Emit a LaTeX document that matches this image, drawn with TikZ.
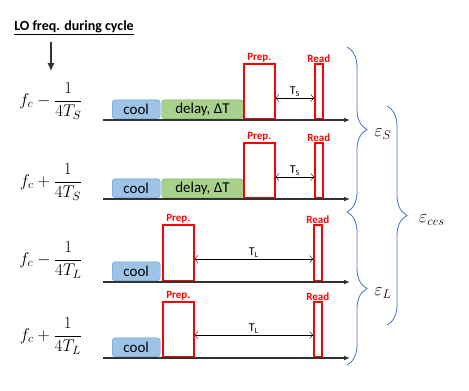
\documentclass[tikz,border=0pt]{standalone}
\usepackage{fix-cm}
\usepackage{amsmath}
\usepackage[no-math]{fontspec}
\setmainfont{Carlito}
\usetikzlibrary{arrows.meta, positioning, calc, decorations.pathreplacing}

\definecolor{coolfill}{RGB}{157,195,230}
\definecolor{cooldraw}{RGB}{91,155,213}
\definecolor{delayfill}{RGB}{169,209,142}
\definecolor{delaydraw}{RGB}{112,173,71}
\definecolor{bracecol}{RGB}{68,114,196}

\begin{document}
\begin{tikzpicture}[
				x=1pt, y=-1pt,
				box/.style={rectangle, rounded corners=3pt, anchor=south west, inner sep=0pt,
					minimum height=19pt, font=\fontsize{15}{15}\selectfont},
				coolbox/.style={box, draw=cooldraw, fill=coolfill, minimum width=48pt},
				delaybox/.style={box, draw=delaydraw, fill=delayfill, minimum width=81.5pt},
				pulse/.style={rectangle, draw=red, line width=1.6pt, anchor=south west, inner sep=0pt},
				tag/.style={text=red, font=\fontsize{11}{11}\selectfont\bfseries, inner sep=1pt},
				prep/.style={pulse, minimum width=31pt, label={[tag]above:Prep.}},
				read/.style={pulse, minimum width=8pt, label={[tag]above:Read}},
				axis/.style={-{Latex[length=6pt, width=5pt]}, line width=1.4pt, draw=black!80},
				tarrow/.style={{Straight Barb[length=3pt, width=7pt]}-{Straight Barb[length=3pt, width=7pt]}, thin},
				tlabel/.style={font=\fontsize{12}{12}\selectfont, inner sep=1.5pt},
				freq/.style={font=\fontsize{17}{17}\selectfont},
				brace/.style={decorate, decoration={brace, amplitude=20pt}, draw=bracecol, line width=0.8pt},
				eps/.style={font=\fontsize{18}{18}\selectfont, inner sep=1pt}
				]
				\useasboundingbox (0,0) rectangle (469,391);
				
				% --- Left: LO frequency labels ---
				\node[font=\fontsize{14}{14}\selectfont\bfseries] (lo) at (74,28) {\underline{LO freq. during cycle}};
				\node[freq] (fA) at (51,101) {$f_c - \dfrac{1}{4T_S}$};
				\node[freq] (fB) at (51,182) {$f_c + \dfrac{1}{4T_S}$};
				\node[freq] (fC) at (51,260) {$f_c - \dfrac{1}{4T_L}$};
				\node[freq] (fD) at (51,336) {$f_c + \dfrac{1}{4T_L}$};
				\draw[-{Latex[length=8pt, width=7pt]}, line width=1.2pt, draw=black!80, shorten <=3pt, shorten >=8pt]
					(lo.south -| 51,0) -- (fA.north -| 51,0);
				
				% --- Row A: short cycle, f_c - 1/4T_S ---
				\node[coolbox] (coolA) at (112,119) {cool};
				\node[delaybox] (delayA) at (161.5,119) {delay, ΔT};
				\node[prep, minimum height=55pt] (prepA) at (243,120) {};
				\node[read, minimum height=55pt] (readA) at (314,120) {};
				\draw[tarrow] (prepA.east |- 0,98) -- (readA.west |- 0,98) node[midway, above, tlabel] {T\textsubscript{S}};
				\draw[axis] (103,120) -- (350,120);
				
				% --- Row B: short cycle, f_c + 1/4T_S ---
				\node[coolbox] (coolB) at (112,198) {cool};
				\node[delaybox] (delayB) at (161.5,198) {delay, ΔT};
				\node[prep, minimum height=55pt] (prepB) at (243,199) {};
				\node[read, minimum height=55pt] (readB) at (314,199) {};
				\draw[tarrow] (prepB.east |- 0,177) -- (readB.west |- 0,177) node[midway, above, tlabel] {T\textsubscript{S}};
				\draw[axis] (103,199) -- (350,199);
				
				% --- Row C: long cycle, f_c - 1/4T_L ---
				\node[coolbox] (coolC) at (112,281) {cool};
				\node[prep, minimum height=56pt] (prepC) at (162,282) {};
				\node[read, minimum height=56pt] (readC) at (313,282) {};
				\draw[tarrow] (prepC.east |- 0,259) -- (readC.west |- 0,259) node[midway, above, tlabel] {T\textsubscript{L}};
				\draw[axis] (103,282) -- (350,282);
				
				% --- Row D: long cycle, f_c + 1/4T_L ---
				\node[coolbox] (coolD) at (112,357) {cool};
				\node[prep, minimum height=55pt] (prepD) at (162,358) {};
				\node[read, minimum height=55pt] (readD) at (313,358) {};
				\draw[tarrow] (prepD.east |- 0,335) -- (readD.west |- 0,335) node[midway, above, tlabel] {T\textsubscript{L}};
				\draw[axis] (103,358) -- (350,358);
				
				% --- Right: error braces ---
				\draw[brace] (347,47) -- (347,212);
				\node[eps] (epsS) at (383,134) {$\varepsilon_S$};
				\draw[brace] (347,212) -- (347,365);
				\node[eps] (epsL) at (383,293) {$\varepsilon_L$};
				\draw[brace] (387,106) -- (387,325);
				\node[eps] (epsces) at (432,220) {$\varepsilon_{ces}$};
			\end{tikzpicture}
\end{document}
